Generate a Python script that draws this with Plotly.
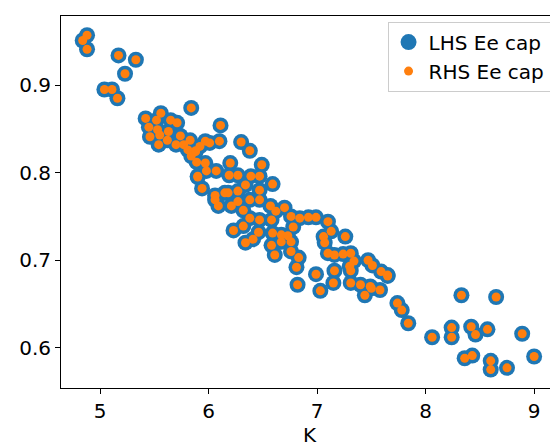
import plotly.graph_objects as go

pts = [
(4.88,0.957),(4.84,0.951),(4.88,0.941),(5.17,0.934),(5.33,0.929),(5.23,0.913),(5.04,0.895),(5.11,0.895),(5.16,0.885),
(5.84,0.874),(6.11,0.854),(6.30,0.835),(6.38,0.825),(6.49,0.809),
(5.42,0.862),(5.52,0.860),(5.56,0.868),(5.65,0.860),(5.71,0.857),(5.45,0.852),(5.53,0.849),(5.63,0.847),(5.46,0.841),
(5.55,0.843),(5.54,0.832),(5.62,0.837),(5.74,0.842),(5.70,0.832),(5.77,0.832),(5.83,0.837),(5.81,0.826),(5.88,0.824),
(5.84,0.819),(5.97,0.836),(6.01,0.834),(6.10,0.836),(5.92,0.830),(5.89,0.812),(5.97,0.811),(5.98,0.802),(5.90,0.795),
(6.07,0.802),(6.20,0.811),(6.19,0.797),(6.27,0.797),(5.94,0.782),(6.06,0.774),(6.15,0.777),(6.27,0.779),(6.39,0.796),
(6.47,0.796),(6.47,0.780),(6.59,0.787),(6.34,0.786),
(5.88,0.825),(5.90,0.796),(6.18,0.777),(6.06,0.769),(6.09,0.762),(6.27,0.767),(6.38,0.769),(6.21,0.762),(6.32,0.757),
(6.47,0.769),(6.57,0.762),(6.62,0.756),(6.70,0.760),(6.76,0.750),(6.84,0.748),(6.92,0.749),(6.99,0.749),(7.10,0.744),
(6.38,0.748),(6.47,0.746),(6.58,0.746),(6.32,0.739),(6.23,0.734),(6.46,0.732),(6.59,0.731),(6.67,0.729),(6.78,0.738),
(6.73,0.728),(6.34,0.720),(6.41,0.724),(6.58,0.717),(6.67,0.721),(6.76,0.721),(6.61,0.706),(6.76,0.710),(6.83,0.703),
(6.81,0.692),(6.82,0.672),(6.99,0.684),(7.03,0.665),(7.15,0.674),(7.16,0.688),(7.06,0.727),(7.07,0.720),(7.13,0.733),
(7.26,0.727),(7.10,0.708),(7.16,0.706),(7.24,0.707),(7.31,0.708),(7.34,0.699),(7.30,0.693),(7.31,0.688),(7.47,0.700),
(7.51,0.694),(7.59,0.687),(7.65,0.683),(7.31,0.674),(7.40,0.672),(7.49,0.670),(7.58,0.666),(7.44,0.660),(7.74,0.651),
(7.78,0.643),(7.65,0.682),(7.50,0.668),
(8.33,0.660),(8.65,0.658),(7.84,0.628),(8.06,0.612),(8.24,0.623),(8.24,0.612),(8.42,0.624),(8.46,0.615),(8.57,0.621),
(8.89,0.616),(9.00,0.590),(8.36,0.588),(8.43,0.591),(8.60,0.585),(8.60,0.575),(8.75,0.577),
]
K = [p[0] for p in pts]
lhs = [p[1] for p in pts]
rhs = [p[1] for p in pts]

fig = go.Figure()
fig.add_trace(go.Scatter(x=K, y=lhs, mode="markers", name="LHS Ee cap",
                         marker=dict(color="#1f77b4", size=16, line=dict(width=0))))
fig.add_trace(go.Scatter(x=K, y=rhs, mode="markers", name="RHS Ee cap",
                         marker=dict(color="#ff7f0e", size=9, line=dict(width=0))))
ax = dict(showgrid=False, zeroline=False, showline=True, linecolor="black", linewidth=1,
          mirror=True, ticks="outside", ticklen=5, tickcolor="black",
          tickfont=dict(size=20, color="black"))
fig.update_layout(
    width=558, height=444, margin=dict(l=53, r=8, t=8, b=64),
    paper_bgcolor="white", plot_bgcolor="white",
    font=dict(family="DejaVu Sans", size=20, color="black"),
    xaxis=dict(ax, range=[4.64, 9.22], tickvals=[5, 6, 7, 8, 9],
               title=dict(text="K", font=dict(size=20), standoff=2)),
    yaxis=dict(ax, range=[0.554, 0.979], tickvals=[0.6, 0.7, 0.8, 0.9]),
    legend=dict(x=0.985, y=0.985, xanchor="right", yanchor="top", bordercolor="#cccccc",
                borderwidth=1, bgcolor="rgba(255,255,255,0.8)", font=dict(size=20),
                itemsizing="trace"),
)
fig.write_html("out.html")
